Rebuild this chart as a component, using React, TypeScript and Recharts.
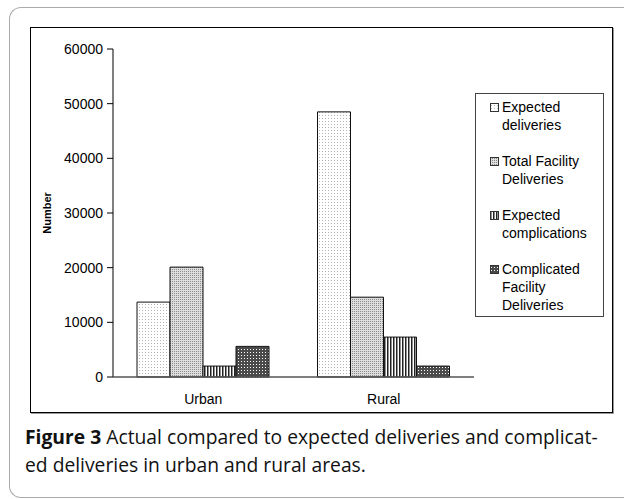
import React from 'react';
import { BarChart, Bar, XAxis, YAxis } from 'recharts';

const areas = ['Urban', 'Rural'];
const expectedDeliveries = [13700, 48500];
const totalFacilityDeliveries = [20100, 14600];
const expectedComplications = [2000, 7300];
const complicatedFacilityDeliveries = [5600, 2000];
const yTicks = [0, 10000, 20000, 30000, 40000, 50000, 60000];

const series = [
  { key: 'expected', name: 'Expected deliveries', values: expectedDeliveries, pat: 'patDots' },
  { key: 'total', name: 'Total Facility Deliveries', values: totalFacilityDeliveries, pat: 'patDense' },
  { key: 'expComp', name: 'Expected complications', values: expectedComplications, pat: 'patStripe' },
  { key: 'compFac', name: 'Complicated Facility Deliveries', values: complicatedFacilityDeliveries, pat: 'patCheck' }
];

const data = areas.map((area, i) => {
  const row: any = { area };
  series.forEach((s) => (row[s.key] = s.values[i]));
  return row;
});

const font = 'Liberation Sans, Arial, sans-serif';

const Patterns = () => (
  <defs>
    <pattern id="patDots" width="3" height="3" patternUnits="userSpaceOnUse">
      <rect width="3" height="3" fill="#fff" />
      <rect x="1" y="1" width="1" height="1" fill="#b4b4b4" />
    </pattern>
    <pattern id="patDense" width="2" height="2" patternUnits="userSpaceOnUse">
      <rect width="2" height="2" fill="#dedede" />
      <rect x="0" y="0" width="1" height="1" fill="#8c8c8c" />
    </pattern>
    <pattern id="patStripe" width="3" height="3" patternUnits="userSpaceOnUse">
      <rect width="3" height="3" fill="#fff" />
      <rect x="0" y="0" width="1.5" height="3" fill="#222" />
    </pattern>
    <pattern id="patCheck" width="3" height="3" patternUnits="userSpaceOnUse">
      <rect width="3" height="3" fill="#4a4a4a" />
      <rect x="1" y="1" width="1" height="1" fill="#fff" />
    </pattern>
  </defs>
);

export default function App() {
  return (
    <div style={{ position: 'absolute', left: 0, top: 0, width: 624, height: 499, overflow: 'hidden', background: '#fff' }}>
      {/* card, open on the right */}
      <div
        style={{
          position: 'absolute', left: 9, top: 7, width: 700, height: 491,
          borderTop: '1px solid #aaa', borderLeft: '1px solid #aaa', borderBottom: '1px solid #aaa',
          borderTopLeftRadius: 12, borderBottomLeftRadius: 12, boxSizing: 'border-box'
        }}
      />
      {/* chart frame */}
      <div
        style={{
          position: 'absolute', left: 30, top: 27, width: 583, height: 386,
          border: '1px solid #000', boxSizing: 'border-box', boxShadow: '1px 1px 0 #999'
        }}
      />
      <div style={{ position: 'absolute', left: 30, top: 27 }}>
        <BarChart
          width={582}
          height={385}
          data={data}
          margin={{ top: 22, right: 138, bottom: 0, left: 0 }}
          barCategoryGap={24}
          barGap={0}
        >
          <Patterns />
          <XAxis
            xAxisId="edge"
            type="number"
            domain={[0, 2]}
            ticks={[0, 1, 2]}
            tick={false}
            tickSize={6}
            axisLine={false}
            tickLine={{ stroke: '#000' }}
            height={0}
          />
          <XAxis
            xAxisId="cat"
            dataKey="area"
            height={35}
            tickLine={false}
            tickMargin={11}
            axisLine={{ stroke: '#555', strokeWidth: 1.5 }}
            tick={{ fill: '#000', fontSize: 14, fontFamily: font }}
          />
          <YAxis
            width={83}
            domain={[0, 60000]}
            ticks={yTicks}
            interval={0}
            tickSize={6}
            tickMargin={4}
            axisLine={{ stroke: '#555', strokeWidth: 1.5 }}
            tickLine={{ stroke: '#000' }}
            tick={{ fill: '#000', fontSize: 14, fontFamily: font }}
            label={{
              value: 'Number', angle: -90, position: 'insideLeft', offset: 17,
              style: { textAnchor: 'middle', fontSize: 11, fontWeight: 'bold', fontFamily: font, fill: '#000' }
            }}
          />
          {series.map((s) => (
            <Bar
              key={s.key}
              xAxisId="cat"
              dataKey={s.key}
              name={s.name}
              fill={`url(#${s.pat})`}
              stroke="#111"
              strokeWidth={1}
              isAnimationActive={false}
            />
          ))}
        </BarChart>
      </div>
      {/* legend */}
      <div
        style={{
          position: 'absolute', left: 475, top: 93, width: 129, height: 224,
          border: '1px solid #444', boxSizing: 'border-box', paddingTop: 4,
          fontFamily: font, fontSize: 14, lineHeight: '18px', color: '#000'
        }}
      >
        {series.map((s) => (
          <div key={s.key} style={{ display: 'flex', alignItems: 'flex-start', marginBottom: 18, paddingLeft: 14 }}>
            <svg width={10} height={18} style={{ flex: 'none', marginRight: 2 }}>
              <rect x={0.5} y={5.5} width={8} height={8} fill={`url(#${s.pat})`} stroke="#333" />
            </svg>
            <div style={{ width: 100 }}>{s.name}</div>
          </div>
        ))}
      </div>
      {/* caption */}
      <div
        style={{
          position: 'absolute', left: 25, top: 423, width: 610, whiteSpace: 'nowrap',
          fontFamily: 'Open Sans, Noto Sans, sans-serif', fontSize: 19.3, lineHeight: '28px', color: '#111'
        }}
      >
        <b>Figure 3</b> Actual compared to expected deliveries and complicat-
        <br />
        ed deliveries in urban and rural areas.
      </div>
    </div>
  );
}
